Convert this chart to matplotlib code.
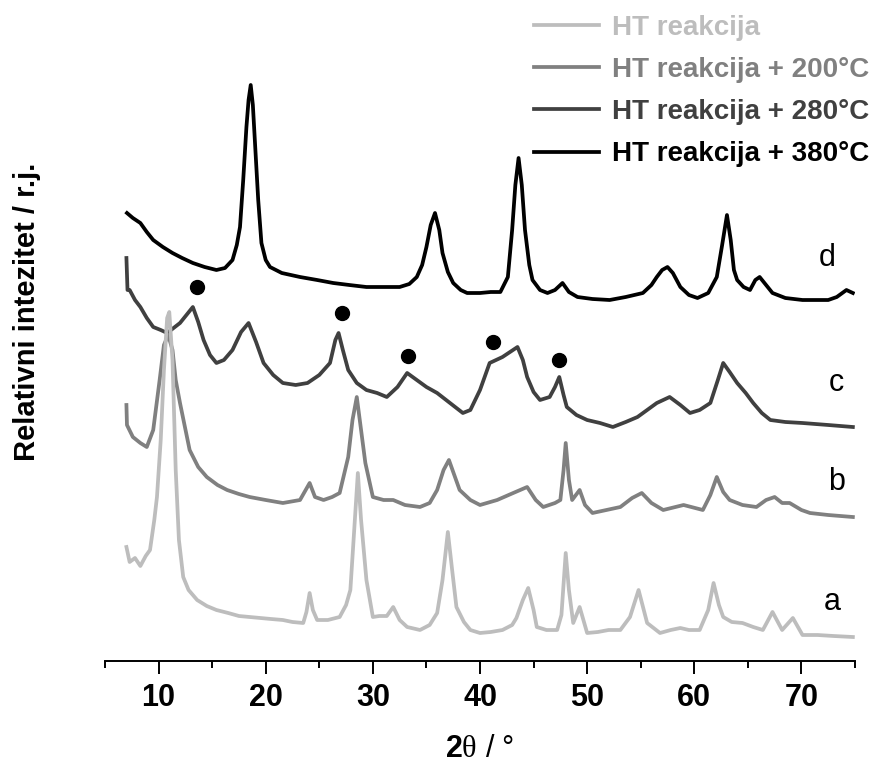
import matplotlib
matplotlib.use("Agg")
import matplotlib.pyplot as plt

plt.rcParams["font.family"] = ["Liberation Sans", "DejaVu Sans"]
plt.rcParams["mathtext.fontset"] = "custom"
plt.rcParams["mathtext.rm"] = "Liberation Serif"
plt.rcParams["mathtext.bf"] = "Liberation Sans:bold"

# =========================
# DATA (stacked intensities, arb. units)
# =========================
a_x = [7.0, 7.3, 7.8, 8.3, 8.8, 9.2, 9.6, 9.85, 10.2, 10.5, 10.8, 11.0, 11.3, 11.6, 11.9,
       12.3, 12.8, 13.6, 14.5, 15.4, 16.5, 17.5, 18.5, 19.5, 20.5, 21.6, 22.5, 23.5, 23.8,
       24.1, 24.4, 24.8, 25.8, 26.9, 27.5, 27.9, 28.2, 28.6, 28.9, 29.4, 30.0, 30.6, 31.3,
       31.9, 32.5, 33.2, 34.4, 35.3, 36.0, 36.5, 37.0, 37.4, 37.8, 38.5, 39.1, 40.0, 41.0,
       42.1, 43.0, 43.4, 44.0, 44.5, 45.0, 45.3, 46.2, 47.2, 47.6, 48.0, 48.3, 48.7, 49.3,
       50.0, 51.0, 52.0, 53.1, 54.0, 54.8, 55.6, 56.8, 57.8, 58.7, 59.5, 60.5, 61.3, 61.8,
       62.3, 62.7, 63.5, 64.5, 65.5, 66.4, 67.3, 68.2, 69.2, 70.1, 71.5, 73.0, 74.8]
a_y = [114, 99, 103, 95, 105, 111, 141, 164, 221, 291, 343, 349, 301, 191, 121,
       84, 71, 61, 55, 51, 48, 45, 44, 43, 42, 41, 39, 38, 49,
       68, 51, 41, 41, 44, 56, 71, 121, 188, 141, 81, 44, 45, 45,
       54, 41, 34, 31, 36, 48, 81, 129, 91, 54, 39, 31, 28, 29,
       31, 36, 43, 61, 73, 51, 34, 31, 31, 46, 108, 71, 38, 54,
       28, 29, 31, 31, 44, 71, 38, 28, 31, 33, 31, 31, 51, 78,
       56, 44, 39, 38, 34, 31, 49, 31, 43, 26, 26, 25, 24]

b_x = [7.0, 7.05, 7.6, 8.3, 8.9, 9.5, 10.1, 10.5, 10.9, 11.3, 11.6, 12.0, 12.9, 13.7,
       14.5, 15.5, 16.4, 17.5, 18.5, 20.0, 21.6, 23.2, 24.1, 24.6, 25.4, 26.2, 26.9, 27.7,
       28.1, 28.5, 28.9, 29.3, 30.0, 31.0, 31.9, 33.0, 34.4, 35.3, 36.0, 36.6, 37.1, 37.6,
       38.1, 39.1, 40.0, 41.6, 43.1, 44.4, 45.2, 45.9, 47.0, 47.5, 47.8, 48.0, 48.3, 48.6,
       49.3, 49.8, 50.5, 51.8, 53.1, 54.2, 55.1, 56.0, 57.1, 59.0, 60.8, 61.5, 62.1, 62.7,
       63.3, 64.5, 65.8, 66.7, 67.5, 68.2, 68.9, 70.0, 70.8, 72.5, 74.8]
b_y = [256, 236, 224, 218, 214, 231, 281, 316, 326, 311, 281, 258, 211, 194,
       184, 176, 171, 167, 164, 161, 158, 161, 178, 164, 161, 164, 168, 204,
       241, 264, 231, 198, 164, 161, 161, 156, 154, 158, 171, 191, 201, 186,
       171, 161, 156, 161, 168, 174, 161, 154, 158, 161, 191, 218, 181, 161,
       171, 156, 148, 151, 154, 163, 168, 158, 151, 156, 151, 166, 184, 169,
       161, 156, 154, 161, 164, 158, 158, 151, 148, 146, 144]

c_x = [7.0, 7.1, 7.3, 7.8, 8.3, 8.9, 9.5, 10.2, 10.8, 11.4, 12.0, 12.6, 13.2, 13.7,
       14.2, 14.8, 15.4, 16.1, 16.9, 17.7, 18.4, 19.1, 19.8, 20.7, 21.6, 22.8, 23.9, 25.0,
       26.0, 26.5, 26.8, 27.2, 27.7, 28.5, 29.4, 30.4, 31.3, 32.3, 33.2, 34.1, 35.0, 36.0,
       37.2, 38.4, 39.1, 40.0, 40.9, 42.1, 42.8, 43.5, 44.0, 44.4, 45.0, 45.6, 46.5, 47.0,
       47.4, 47.8, 48.1, 49.0, 50.0, 51.2, 52.4, 53.6, 54.7, 55.6, 56.5, 57.7, 58.7, 59.6,
       60.5, 61.5, 62.2, 62.7, 63.3, 64.0, 64.8, 65.5, 66.3, 67.1, 68.5, 70.1, 72.5, 74.8]
c_y = [403, 371, 371, 361, 354, 343, 334, 331, 328, 333, 338, 346, 354, 339,
       321, 306, 298, 301, 311, 329, 338, 319, 298, 286, 278, 276, 278, 286,
       298, 321, 328, 311, 291, 278, 271, 268, 264, 274, 288, 281, 274, 268,
       258, 248, 251, 271, 298, 304, 309, 314, 301, 284, 269, 261, 264, 274,
       284, 266, 254, 246, 241, 238, 234, 239, 244, 251, 258, 264, 256, 248,
       251, 258, 281, 298, 289, 278, 268, 258, 248, 241, 239, 238, 236, 234]

d_x = [7.05, 7.6, 8.3, 8.9, 9.5, 10.4, 11.3, 12.2, 13.2, 14.3, 15.4, 16.2, 16.9, 17.3,
       17.6, 17.9, 18.2, 18.4, 18.6, 18.8, 19.0, 19.3, 19.6, 20.0, 20.4, 21.5, 23.2, 24.8,
       26.3, 27.8, 29.4, 31.0, 32.5, 33.4, 34.1, 34.6, 35.0, 35.4, 35.8, 36.2, 36.5, 37.0,
       37.5, 38.2, 38.8, 40.0, 41.0, 41.9, 42.6, 43.0, 43.3, 43.6, 43.9, 44.2, 44.6, 44.9,
       45.6, 46.3, 47.0, 47.7, 48.3, 49.1, 50.5, 52.1, 53.6, 55.2, 56.0, 56.5, 57.0, 57.5,
       58.0, 58.7, 59.5, 60.3, 61.3, 62.1, 62.6, 63.05, 63.4, 63.7, 64.0, 64.6, 65.2, 65.7,
       66.1, 66.7, 67.3, 68.5, 70.1, 71.5, 72.5, 73.3, 74.2, 74.8]
d_y = [448, 443, 438, 429, 421, 414, 408, 403, 398, 394, 391, 393, 401, 416,
       434, 481, 534, 561, 576, 556, 518, 461, 418, 401, 394, 388, 384, 381,
       378, 376, 374, 374, 374, 377, 384, 396, 414, 436, 448, 431, 408, 389,
       378, 371, 368, 368, 369, 369, 384, 431, 476, 503, 476, 431, 396, 381,
       371, 368, 371, 378, 369, 364, 362, 361, 364, 368, 376, 384, 391, 394,
       388, 374, 366, 363, 368, 384, 416, 446, 421, 391, 381, 374, 371, 381,
       384, 376, 368, 363, 361, 361, 361, 364, 371, 368]

# filled-circle markers on pattern c
dot_x = [13.6, 27.1, 33.3, 41.2, 47.4]
dot_y = [374, 348, 305, 319, 301]

labels = ["HT reakcija", "HT reakcija + 200°C", "HT reakcija + 280°C", "HT reakcija + 380°C"]
colors = ["#bdbdbd", "#808080", "#404040", "#000000"]
curve_tags = ["a", "b", "c", "d"]

# =========================
# PLOT
# =========================
fig = plt.figure(figsize=(8.72, 7.72), dpi=100)
ax = fig.add_axes([105 / 872, 111 / 772, 750 / 872, 600 / 772])

series = [(a_x, a_y), (b_x, b_y), (c_x, c_y), (d_x, d_y)]
lines = [None] * 4
for i in [3, 2, 1, 0]:
    xs, ys = series[i]
    lines[i], = ax.plot(xs, ys, color=colors[i], lw=2.7, label=labels[i])

ax.plot(dot_x, dot_y, "o", color="black", ms=10, zorder=5)

tag_pos = [(72.85, 59), (73.3, 179), (73.3, 278), (72.4, 403)]
for tag, (tx, ty) in zip(curve_tags, tag_pos):
    ax.text(tx, ty, tag, fontsize=22, ha="center", va="center")

ax.set_xlim(5, 75)
ax.set_ylim(0, 600)
ax.set_xticks([10, 20, 30, 40, 50, 60, 70])
ax.set_xticks([5, 15, 25, 35, 45, 55, 65, 75], minor=True)
ax.set_yticks([])
for s in ["left", "top", "right"]:
    ax.spines[s].set_visible(False)
ax.spines["bottom"].set_linewidth(1.4)
ax.tick_params(axis="x", which="major", direction="out", length=9, width=1.4, pad=7)
ax.tick_params(axis="x", which="minor", direction="out", length=5, width=1.4)
for lab in ax.get_xticklabels():
    lab.set_fontsize(22)
    lab.set_fontweight("bold")

ax.set_xlabel(r"$\mathbf{2}\mathrm{\theta}$ / °", fontsize=22, labelpad=15)
ax.set_ylabel("Relativni intezitet / r.j.", fontsize=21, fontweight="bold", va="center")
ax.yaxis.set_label_coords(-0.104, 0.582)

leg = fig.legend(handles=lines, loc="upper right", bbox_to_anchor=(869 / 872, 1 - 15 / 772),
                 frameon=False, handlelength=2.35, handletextpad=0.45, labelspacing=0.58,
                 borderpad=0, borderaxespad=0, labelcolor="linecolor",
                 prop={"weight": "bold", "size": 20})

fig.savefig("out.png", dpi=100)
